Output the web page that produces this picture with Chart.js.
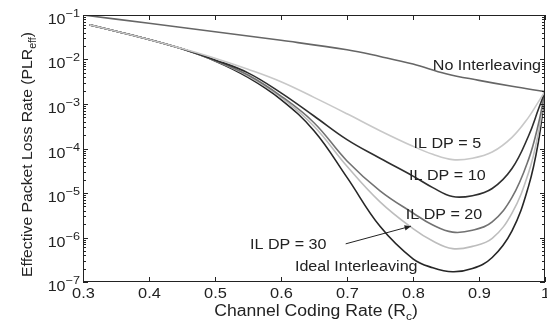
<!DOCTYPE html>
<html>
<head>
<meta charset="utf-8">
<script src="https://cdn.jsdelivr.net/npm/chart.js@4.4.1/dist/chart.umd.min.js"></script>
<style>
html, body { margin: 0; padding: 0; background: #fff; }
</style>
</head>
<body>
<canvas id="plr" width="547" height="322"></canvas>
<script>
// x axis: channel coding rate, y axis: effective packet loss rate (log)
const xTicks = [0.3, 0.4, 0.5, 0.6, 0.7, 0.8, 0.9, 1.0];
const yTickExps = [-1, -2, -3, -4, -5, -6, -7];

// No interleaving curve
const rateNoIL = [0.3, 0.4, 0.5, 0.6, 0.7, 0.75, 0.8, 0.85, 0.9, 0.95, 1.0];
const plrNoIL  = [0.1, 0.065, 0.042, 0.027, 0.0166, 0.0117, 0.0079, 0.0048, 0.0034, 0.0025, 0.0019];

// interleaved curves share the same rates
const rate    = [0.31, 0.35, 0.4, 0.45, 0.5, 0.55, 0.6, 0.65, 0.7, 0.75, 0.8, 0.83, 0.86, 0.89, 0.92, 0.95, 0.975, 0.99, 1.0];
const plrDP5  = [0.060, 0.043, 0.0282, 0.0176, 0.0107, 6.03e-3, 3.16e-3, 1.41e-3, 6.03e-4, 2.51e-4, 1.12e-4, 7.41e-5, 5.62e-5, 6.03e-5, 8.32e-5, 1.78e-4, 5.01e-4, 1.12e-3, 1.91e-3];
const plrDP10 = [0.060, 0.043, 0.0282, 0.0174, 0.0098, 5.01e-3, 1.78e-3, 5.37e-4, 1.58e-4, 6.03e-5, 2.40e-5, 1.32e-5, 8.32e-6, 8.71e-6, 1.26e-5, 3.55e-5, 1.91e-4, 7.59e-4, 1.91e-3];
const plrDP20 = [0.060, 0.043, 0.0282, 0.0174, 0.0095, 4.47e-3, 1.51e-3, 3.80e-4, 5.25e-5, 1.12e-5, 3.55e-6, 1.91e-6, 1.32e-6, 1.45e-6, 2.24e-6, 7.94e-6, 5.62e-5, 3.55e-4, 1.91e-3];
const plrDP30 = [0.060, 0.043, 0.0282, 0.0174, 0.0095, 4.27e-3, 1.41e-3, 3.16e-4, 3.98e-5, 6.31e-6, 1.58e-6, 8.32e-7, 5.62e-7, 6.31e-7, 9.55e-7, 3.55e-6, 2.82e-5, 2.24e-4, 1.91e-3];
const plrIdeal = [0.060, 0.043, 0.0282, 0.0174, 0.0093, 3.98e-3, 1.26e-3, 2.51e-4, 2.24e-5, 1.78e-6, 3.31e-7, 2.09e-7, 1.70e-7, 2.0e-7, 3.55e-7, 1.41e-6, 1.41e-5, 1.41e-4, 1.91e-3];

const seriesColors = ['#666666', '#c8c8c8', '#2e2e2e', '#727272', '#bdbdbd', '#262626'];

// text labels inside the plot: [text, rate, plr]
const notes = [
  ['No Interleaving', 0.912, 0.0076],
  ['IL DP = 5', 0.852, 1.35e-4],
  ['IL DP = 10', 0.852, 2.5e-5],
  ['IL DP = 20', 0.847, 3.3e-6],
  ['IL DP = 30', 0.611, 7.2e-7],
  ['Ideal Interleaving', 0.714, 2.3e-7]
];
const arrowFrom = [0.698, 7.2e-7];
const arrowTo = [0.797, 1.8e-6];

const FONT = '"Liberation Sans", Arial, Helvetica, sans-serif';

function pts(xs, ys) {
  return xs.map((x, i) => ({ x: x, y: ys[i] }));
}

// draws text made of parts [{t, size, dy}], stretched horizontally by sx
function drawRich(ctx, parts, x, y, align, sx) {
  let total = 0;
  const widths = parts.map(p => {
    ctx.font = p.size + 'px ' + FONT;
    const w = ctx.measureText(p.t).width * sx;
    total += w;
    return w;
  });
  let cx = x;
  if (align === 'center') cx = x - total / 2;
  if (align === 'right') cx = x - total;
  parts.forEach((p, i) => {
    ctx.save();
    ctx.font = p.size + 'px ' + FONT;
    ctx.textAlign = 'left';
    ctx.textBaseline = 'alphabetic';
    ctx.translate(cx, y + (p.dy || 0));
    ctx.scale(sx, 1);
    ctx.fillText(p.t, 0, 0);
    ctx.restore();
    cx += widths[i];
  });
}

function line(ctx, x1, y1, x2, y2) {
  ctx.beginPath();
  ctx.moveTo(x1, y1);
  ctx.lineTo(x2, y2);
  ctx.stroke();
}

const axisDecor = {
  id: 'axisDecor',
  afterDraw(chart) {
    const ctx = chart.ctx;
    const a = chart.chartArea;
    const xs = chart.scales.x;
    const ys = chart.scales.y;
    ctx.save();
    ctx.strokeStyle = '#222';
    ctx.fillStyle = '#222';
    ctx.lineWidth = 1;
    ctx.strokeRect(a.left + 0.5, a.top + 0.5, a.right - a.left - 1, a.bottom - a.top - 1);

    // x ticks and labels
    xTicks.forEach(v => {
      const px = Math.round(xs.getPixelForValue(v)) + 0.5;
      line(ctx, px, a.bottom, px, a.bottom - 5);
      line(ctx, px, a.top, px, a.top + 5);
      const lab = v === 1 ? '1' : v.toFixed(1);
      drawRich(ctx, [{ t: lab, size: 14 }], px, a.bottom + 16, 'center', 1.17);
    });

    // y ticks (major + minor) and labels
    yTickExps.forEach(e => {
      const py = Math.round(ys.getPixelForValue(Math.pow(10, e))) + 0.5;
      line(ctx, a.left, py, a.left + 5, py);
      line(ctx, a.right, py, a.right - 5, py);
      drawRich(ctx, [{ t: '10', size: 14, dy: 0 }, { t: '\u2212' + (-e), size: 11, dy: -7 }], 80, py + 8, 'right', 1.15);
      if (e < -1) {
        for (let m = 2; m <= 9; m++) {
          const my = Math.round(ys.getPixelForValue(m * Math.pow(10, e))) + 0.5;
          line(ctx, a.left, my, a.left + 3, my);
          line(ctx, a.right, my, a.right - 3, my);
        }
      }
    });

    // axis titles
    drawRich(ctx, [{ t: 'Channel Coding Rate (R', size: 16 }, { t: 'c', size: 11, dy: 4 }, { t: ')', size: 16 }],
      (a.left + a.right) / 2 + 2, 316, 'center', 1.1);
    ctx.save();
    ctx.translate(32, (a.top + a.bottom) / 2 + 6);
    ctx.rotate(-Math.PI / 2);
    drawRich(ctx, [{ t: 'Effective Packet Loss Rate (PLR', size: 15 }, { t: 'eff', size: 10, dy: 4 }, { t: ')', size: 15 }],
      0, 0, 'center', 1.05);
    ctx.restore();

    // curve labels
    notes.forEach(n => {
      const px = xs.getPixelForValue(n[1]);
      const py = ys.getPixelForValue(n[2]);
      drawRich(ctx, [{ t: n[0], size: 14 }], px, py + 5, 'center', 1.15);
    });

    // arrow to IL DP = 30
    const x1 = xs.getPixelForValue(arrowFrom[0]), y1 = ys.getPixelForValue(arrowFrom[1]);
    const x2 = xs.getPixelForValue(arrowTo[0]), y2 = ys.getPixelForValue(arrowTo[1]);
    line(ctx, x1, y1, x2, y2);
    const ang = Math.atan2(y2 - y1, x2 - x1);
    ctx.beginPath();
    ctx.moveTo(x2, y2);
    ctx.lineTo(x2 - 7 * Math.cos(ang - 0.4), y2 - 7 * Math.sin(ang - 0.4));
    ctx.lineTo(x2 - 7 * Math.cos(ang + 0.4), y2 - 7 * Math.sin(ang + 0.4));
    ctx.closePath();
    ctx.fill();
    ctx.restore();
  }
};

const mkSet = (label, data, color) => ({
  label: label,
  data: data,
  borderColor: color,
  borderWidth: 1.6,
  pointRadius: 0,
  fill: false,
  tension: 0.4
});

new Chart(document.getElementById('plr'), {
  type: 'line',
  data: {
    datasets: [
      mkSet('No Interleaving', pts(rateNoIL, plrNoIL), seriesColors[0]),
      mkSet('IL DP = 5', pts(rate, plrDP5), seriesColors[1]),
      mkSet('IL DP = 10', pts(rate, plrDP10), seriesColors[2]),
      mkSet('IL DP = 20', pts(rate, plrDP20), seriesColors[3]),
      mkSet('IL DP = 30', pts(rate, plrDP30), seriesColors[4]),
      mkSet('Ideal Interleaving', pts(rate, plrIdeal), seriesColors[5])
    ]
  },
  options: {
    responsive: false,
    animation: false,
    devicePixelRatio: 1,
    layout: { padding: { top: 15, right: 2, left: 0, bottom: 0 } },
    plugins: { legend: { display: false }, tooltip: { enabled: false } },
    scales: {
      x: {
        type: 'linear',
        min: 0.3,
        max: 1.0,
        grid: { display: false },
        border: { display: false },
        ticks: { display: false },
        afterFit(s) { s.height = 40; }
      },
      y: {
        type: 'logarithmic',
        min: 1e-7,
        max: 1e-1,
        grid: { display: false },
        border: { display: false },
        ticks: { display: false },
        afterFit(s) { s.width = 83; }
      }
    }
  },
  plugins: [axisDecor]
});
</script>
</body>
</html>
